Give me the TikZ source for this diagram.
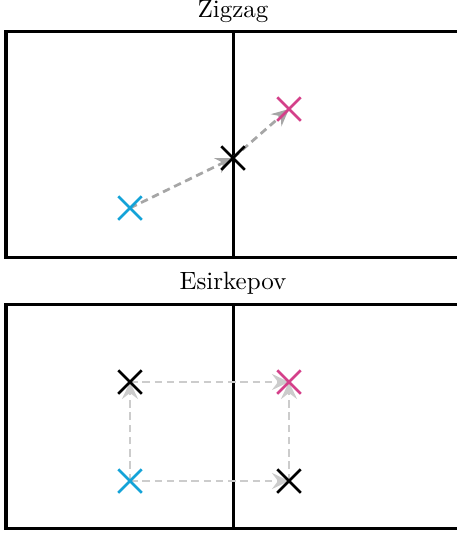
\documentclass[tikz,border=0pt]{standalone}
\usetikzlibrary{arrows.meta,shapes.misc}
\definecolor{ccyan}{HTML}{14A3D8}
\definecolor{cmag}{HTML}{D4408A}
\definecolor{arrdark}{HTML}{A6A6A6}
\definecolor{arrlight}{HTML}{CCCCCC}
\tikzset{
  frame/.style={line width=1.2pt,black},
  xmark/.style={cross out,draw,minimum size=8.4pt,inner sep=0pt,line width=1pt},
  move/.style={line width=1.1pt,dash pattern=on 3pt off 1.9pt,-{Stealth[length=6.8pt,width=6.4pt,inset=2.4pt]}},
  title/.style={font=\normalsize,inner sep=0pt}
}
\begin{document}
\begin{tikzpicture}[x=0.4pt,y=-0.4pt]
\useasboundingbox (0,0) rectangle (456,534);
% titles
\node[title] (t1) at (233,12) {Zigzag};
\node[title] (t2) at (233,283) {Esirkepov};
% frames
\draw[frame] (6,31) rectangle (460,257);
\draw[frame] (233,31) -- (233,257);
\draw[frame] (6,304) rectangle (460,528);
\draw[frame] (233,304) -- (233,528);
% top points
\coordinate (za) at (130,208);
\coordinate (zb) at (233,158);
\coordinate (zc) at (289,109);
\draw[move,arrdark] (za) -- (zb);
\draw[move,arrdark] (zb) -- (zc);
\node[xmark,ccyan] (zan) at (za) {};
\node[xmark,black] (zbn) at (zb) {};
\node[xmark,cmag] (zcn) at (zc) {};
% bottom points
\coordinate (ea) at (130,481);
\coordinate (eb) at (130,382);
\coordinate (ec) at (289,382);
\coordinate (ed) at (289,481);
\draw[move,arrlight] (ea) -- (eb);
\draw[move,arrlight] (eb) -- (ec);
\draw[move,arrlight] (ea) -- (ed);
\draw[move,arrlight] (ed) -- (ec);
\node[xmark,ccyan] (ean) at (ea) {};
\node[xmark,black] (ebn) at (eb) {};
\node[xmark,cmag] (ecn) at (ec) {};
\node[xmark,black] (edn) at (ed) {};
\end{tikzpicture}
\end{document}
